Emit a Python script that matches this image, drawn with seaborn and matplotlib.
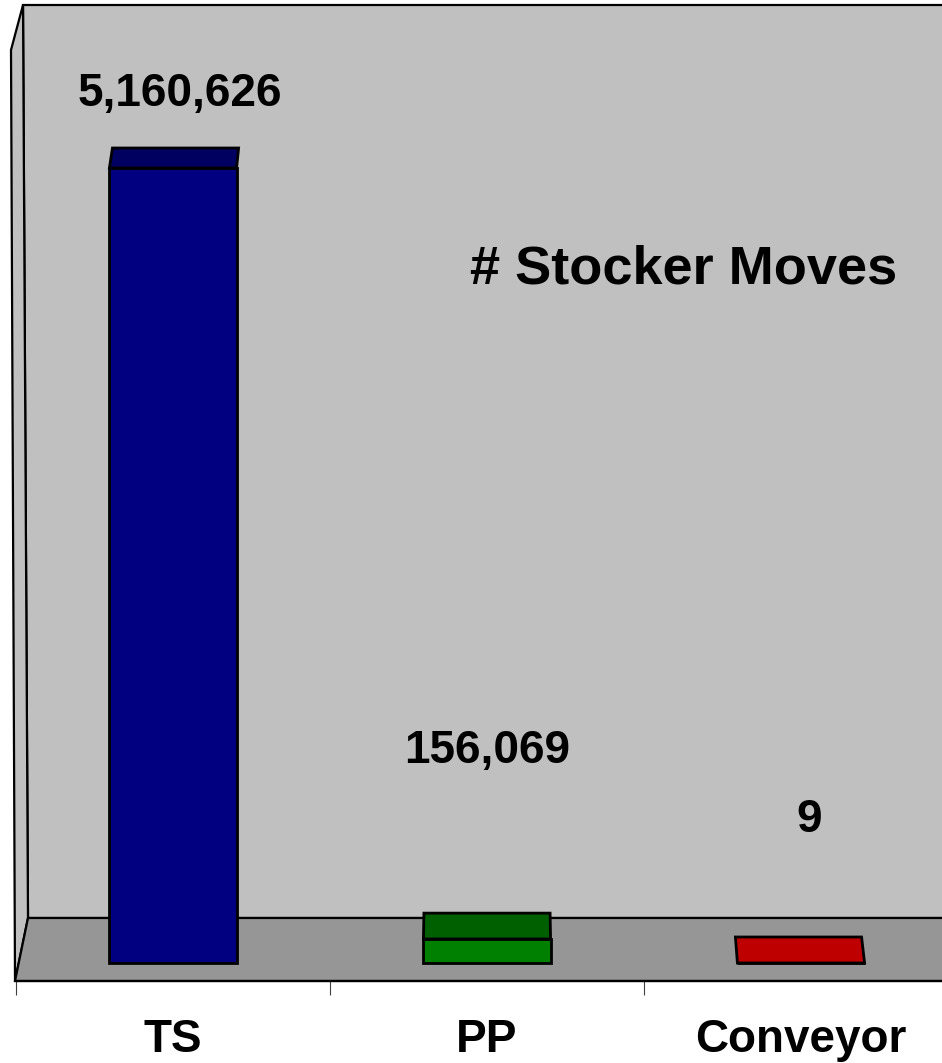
import numpy as np
import pandas as pd
import matplotlib
matplotlib.use("Agg")
import matplotlib.pyplot as plt
import seaborn as sns
from matplotlib.patches import Polygon

# ---- data ----
categories = ["TS", "PP", "Conveyor"]
moves = [5160626, 156069, 9]
value_labels = ["5,160,626", "156,069", "9"]
front_colors = ["#000080", "#008000", "#FF0000"]
top_colors = ["#000060", "#006000", "#BF0000"]
title_text = "# Stocker Moves"

# ---- layout constants (pixels) ----
W, H = 942, 1063
label_offsets_px = [(7, 62), (0, 176), (8, 131)]   # (dx, dy above bar front top)

sns.set_theme(style="white")
plt.rcParams['font.family'] = ['Liberation Sans', 'DejaVu Sans']

fig = plt.figure(figsize=(W / 100, H / 100), dpi=100)
fig.patch.set_facecolor("white")

# background (walls + floor) in pixel coordinates
bg = fig.add_axes([0, 0, 1, 1])
bg.set_xlim(0, W)
bg.set_ylim(H, 0)
bg.axis("off")
lw = 1.6
bg.add_patch(Polygon([(23, 5), (950, 5), (950, 918), (28, 918)], closed=True,
                     fc="#C0C0C0", ec="black", lw=lw))
bg.add_patch(Polygon([(11, 50), (23, 5), (28, 918), (15, 981)], closed=True,
                     fc="#C0C0C0", ec="black", lw=lw))
bg.add_patch(Polygon([(28, 918), (950, 918), (950, 981), (15, 981)], closed=True,
                     fc="#969696", ec="black", lw=lw))

# bar axes
ax = fig.add_axes([16 / W, (H - 963) / H, 942 / W, 924.3 / H])
ax.set_facecolor("none")
df = pd.DataFrame({"cat": categories, "moves": moves})
sns.barplot(data=df, x="cat", y="moves", hue="cat", palette=front_colors,
            legend=False, width=0.405, saturation=1, edgecolor="black",
            linewidth=2.0, ax=ax)
ax.set_xlim(-0.5, 2.5)
ax.set_ylim(0, 6_000_000)
for p in ax.patches:
    p.set_clip_on(False)

# 3D-ish top faces
vp_x = 487.0
inv = ax.transData.inverted()
for i, p in enumerate(list(ax.patches)[:len(categories)]):
    x0, w, h = p.get_x(), p.get_width(), p.get_height()
    (fx0, fy), (fx1, _) = ax.transData.transform([(x0, h), (x0 + w, h)])
    y_top = H - fy
    depth = 20 + 6 * (y_top - 168) / 795
    bx0 = fx0 + 0.008 * (vp_x - fx0)
    bx1 = fx1 + 0.008 * (vp_x - fx1)
    pts_disp = [(fx0, fy), (fx1, fy), (bx1, fy + depth), (bx0, fy + depth)]
    pts = inv.transform(pts_disp)
    ax.add_patch(Polygon(pts, closed=True, fc=top_colors[i], ec="black",
                         lw=2.0, clip_on=False, zorder=3))

# value labels
for i, (v, lab) in enumerate(zip(moves, value_labels)):
    dx, dy = label_offsets_px[i]
    ax.annotate(lab, xy=(i, v), xytext=(dx * 0.72, dy * 0.72),
                textcoords="offset points", ha="center", va="baseline",
                fontsize=33, fontweight="bold", color="black",
                annotation_clip=False)

# axes styling
for s in ["left", "top", "right"]:
    ax.spines[s].set_visible(False)
ax.spines["bottom"].set_position(("outward", 13))
ax.spines["bottom"].set_color("black")
ax.spines["bottom"].set_linewidth(lw)
ax.set_yticks([])
ax.set_xlabel("")
ax.set_ylabel("")
ax.set_xticks([0, 1, 2])
ax.set_xticklabels(categories, fontsize=33, fontweight="bold", color="black")
ax.set_xticks([-0.5, 0.5, 1.5, 2.5], minor=True)
ax.tick_params(axis="x", which="major", bottom=True, length=0, pad=26.5)
ax.tick_params(axis="x", which="minor", bottom=True, length=10, width=0.8,
               color="#404040", direction="out")

fig.text(684 / W, (H - 283) / H, title_text, ha="center", va="baseline",
         fontsize=39, fontweight="bold", color="black")

fig.savefig("out.png", dpi=100)
